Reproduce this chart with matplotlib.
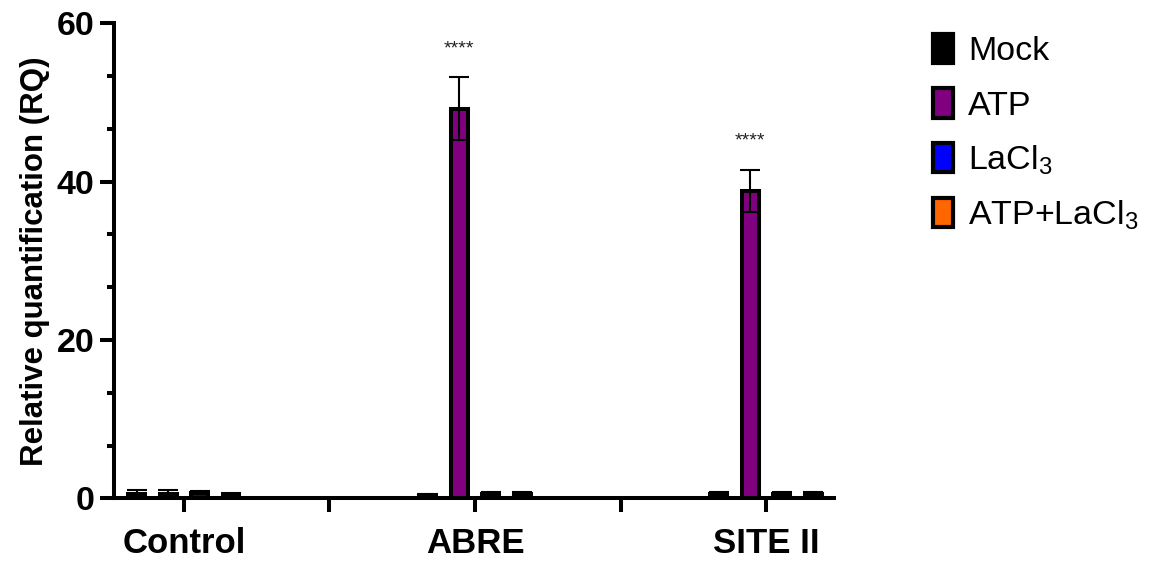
import matplotlib
matplotlib.use("Agg")
import matplotlib.pyplot as plt
from matplotlib.patches import Patch
from matplotlib.ticker import MultipleLocator
import numpy as np

plt.rcParams['font.family'] = ['Liberation Sans', 'DejaVu Sans']
plt.rcParams['mathtext.default'] = 'regular'

categories = ["Control", "ABRE", "SITE II"]
treatments = ["Mock", "ATP", r"LaCl$_3$", r"ATP+LaCl$_3$"]
colors = ["#000000", "#800080", "#0000FF", "#FF6600"]

# mean RQ per treatment, one value per category
means = {
    "Mock":       [0.50, 0.45, 0.60],
    "ATP":        [0.60, 49.2, 38.8],
    "LaCl3":      [0.70, 0.60, 0.60],
    "ATP+LaCl3":  [0.35, 0.55, 0.60],
}
errors = {
    "Mock":       [0.50, 0.05, 0.20],
    "ATP":        [0.45, 4.0, 2.7],
    "LaCl3":      [0.20, 0.20, 0.20],
    "ATP+LaCl3":  [0.35, 0.20, 0.20],
}
series_keys = ["Mock", "ATP", "LaCl3", "ATP+LaCl3"]
significance = ["", "****", "****"]

fig = plt.figure(figsize=(11.68, 5.61), dpi=100)
ax = fig.add_axes([0.0976, 0.1118, 0.6166, 0.8467])

x = np.arange(len(categories))
offsets = np.array([-1.5, -0.5, 0.5, 1.5]) * 0.108
bar_w = 0.058

for key, col, off in zip(series_keys, colors, offsets):
    ax.bar(x + off, means[key], width=bar_w, color=col, edgecolor="black",
           linewidth=2.9, zorder=2)
    ax.errorbar(x + off, means[key], yerr=errors[key], fmt="none",
                ecolor="black", elinewidth=1.5, capsize=7.5, capthick=1.5,
                zorder=3)

# significance marks above the ATP bars
atp_x = x + offsets[1]
for xi, m, e, s in zip(atp_x, means["ATP"], errors["ATP"], significance):
    if s:
        ax.text(xi, m + e + 3.6, s, ha="center", va="center",
                fontsize=14, color="#222222")

ax.set_xlim(-0.24, 2.234)
ax.set_ylim(0, 60)
ax.yaxis.set_major_locator(MultipleLocator(20))
ax.yaxis.set_minor_locator(MultipleLocator(20 / 3))
ax.set_xticks([0, 0.5, 1, 1.5, 2])
ax.set_xticklabels(["Control", "", "ABRE", "", "SITE II"],
                   fontsize=25, fontweight="bold")
for lab in ax.get_yticklabels():
    lab.set_fontsize(24.5)
    lab.set_fontweight("bold")

ax.tick_params(axis="both", which="major", length=10, width=2.9, pad=4)
ax.tick_params(axis="y", which="minor", length=5, width=2.9)
ax.tick_params(axis="x", which="major", pad=11)

for side in ["top", "right"]:
    ax.spines[side].set_visible(False)
for side in ["left", "bottom"]:
    ax.spines[side].set_linewidth(2.9)
    ax.spines[side].set_capstyle("projecting")

ax.set_ylabel("Relative quantification (RQ)", fontsize=22.5,
              fontweight="bold", labelpad=5)

handles = [Patch(facecolor=c, edgecolor="black", linewidth=3.0) for c in colors]
ax.legend(handles, treatments, loc="upper left",
          bbox_to_anchor=(933 / 1168, 1 - 34 / 561),
          bbox_transform=fig.transFigure, frameon=False, fontsize=24.5,
          handlelength=0.58, handleheight=0.95, handletextpad=0.45,
          labelspacing=0.62, borderpad=0, borderaxespad=0)

fig.savefig("out.png", dpi=100)
